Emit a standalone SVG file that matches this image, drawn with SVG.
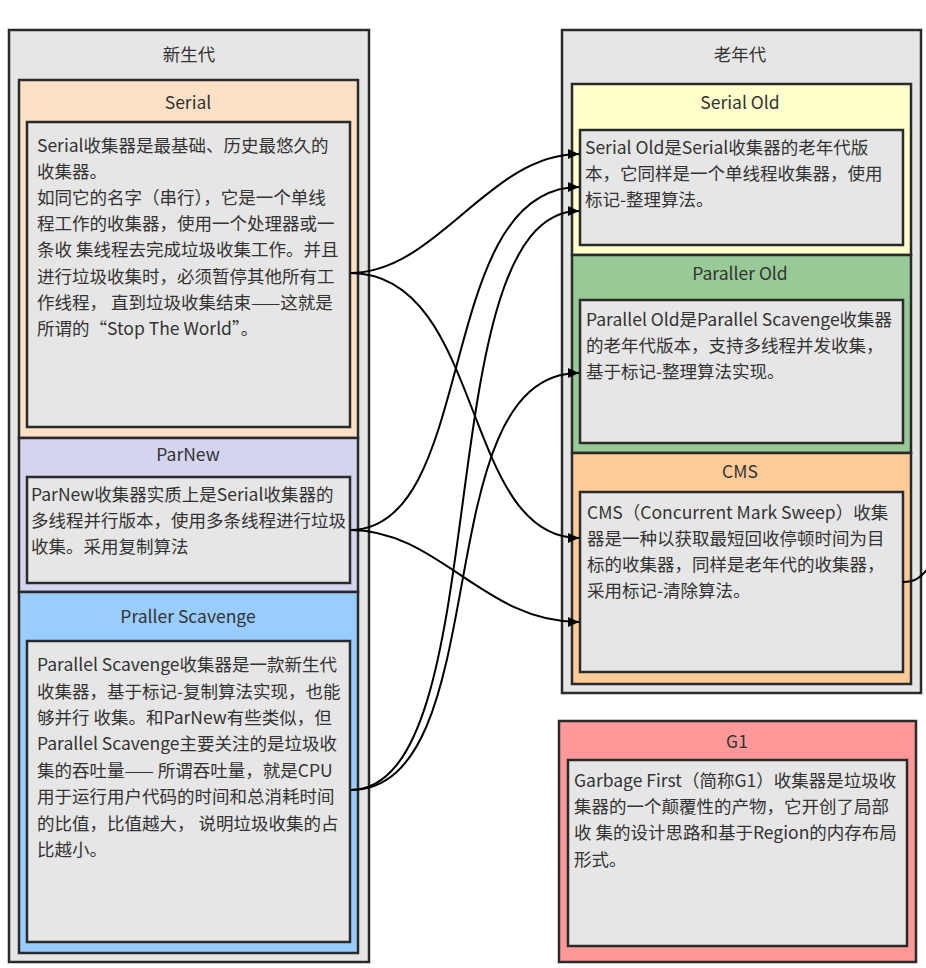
<svg xmlns="http://www.w3.org/2000/svg" width="926" height="968" viewBox="0 0 926 968">
<defs>
<style>
.box{stroke:#2a2a2a;stroke-width:2.5}
.cont{fill:#e6e6e6}
.inner{fill:#e6e6e6}
.t{font-family:"Noto Sans CJK SC","Noto Sans",sans-serif;font-size:17.5px;fill:#333}
.title{text-anchor:middle}
.edge{fill:none;stroke:#000;stroke-width:2}
</style>
<marker id="arr" markerUnits="userSpaceOnUse" markerWidth="12" markerHeight="10" refX="11" refY="5" orient="auto">
<path d="M0,0 L11,5 L0,10 z" fill="#000"/>
</marker>
</defs>
<rect width="926" height="968" fill="#fff"/>

<g id="young-gen">
<rect class="box cont" x="9" y="30" width="360" height="932"/>
<text class="t title" x="189" y="61">新生代</text>
</g>

<g id="serial">
<rect class="box" x="19" y="80" width="339" height="358" fill="#fde1c6"/>
<text class="t title" x="188" y="109">Serial</text>
<rect class="box inner" x="27" y="122" width="323" height="305"/>
<text class="t" x="37" y="152">
<tspan x="37" y="152">Serial收集器是最基础、历史最悠久的</tspan>
<tspan x="37" y="178">收集器。</tspan>
<tspan x="37" y="204">如同它的名字（串行），它是一个单线</tspan>
<tspan x="37" y="230">程工作的收集器，使用一个处理器或一</tspan>
<tspan x="37" y="256">条收 集线程去完成垃圾收集工作。并且</tspan>
<tspan x="37" y="283">进行垃圾收集时，必须暂停其他所有工</tspan>
<tspan x="37" y="309">作线程， 直到垃圾收集结束——这就是</tspan>
<tspan x="37" y="335">所谓的“Stop The World”。</tspan>
</text>
</g>

<g id="parnew">
<rect class="box" x="19" y="438" width="339" height="154" fill="#d4d4ef"/>
<text class="t title" x="188" y="461">ParNew</text>
<rect class="box inner" x="27" y="477" width="323" height="106"/>
<text class="t">
<tspan x="31" y="501">ParNew收集器实质上是Serial收集器的</tspan>
<tspan x="31" y="527">多线程并行版本，使用多条线程进行垃圾</tspan>
<tspan x="31" y="553">收集。采用复制算法</tspan>
</text>
</g>

<g id="parallel-scavenge">
<rect class="box" x="19" y="592" width="339" height="361" fill="#99ccff"/>
<text class="t title" x="188" y="623">Praller Scavenge</text>
<rect class="box inner" x="27" y="641" width="323" height="301"/>
<text class="t">
<tspan x="37" y="671">Parallel Scavenge收集器是一款新生代</tspan>
<tspan x="37" y="698">收集器，基于标记-复制算法实现，也能</tspan>
<tspan x="37" y="724">够并行 收集。和ParNew有些类似，但</tspan>
<tspan x="37" y="750">Parallel Scavenge主要关注的是垃圾收</tspan>
<tspan x="37" y="777">集的吞吐量—— 所谓吞吐量，就是CPU</tspan>
<tspan x="37" y="803">用于运行用户代码的时间和总消耗时间</tspan>
<tspan x="37" y="830">的比值，比值越大， 说明垃圾收集的占</tspan>
<tspan x="37" y="856">比越小。</tspan>
</text>
</g>

<g id="old-gen">
<rect class="box cont" x="562" y="30" width="359" height="663"/>
<text class="t title" x="740" y="61">老年代</text>
</g>

<g id="serial-old">
<rect class="box" x="572" y="84" width="339" height="171" fill="#ffffcc"/>
<text class="t title" x="740" y="109">Serial Old</text>
<rect class="box inner" x="580" y="130" width="323" height="115"/>
<text class="t">
<tspan x="585" y="154">Serial Old是Serial收集器的老年代版</tspan>
<tspan x="585" y="180">本，它同样是一个单线程收集器，使用</tspan>
<tspan x="585" y="206">标记-整理算法。</tspan>
</text>
</g>

<g id="parallel-old">
<rect class="box" x="572" y="255" width="339" height="198" fill="#97ca96"/>
<text class="t title" x="740" y="280">Paraller Old</text>
<rect class="box inner" x="580" y="300" width="323" height="143"/>
<text class="t">
<tspan x="586" y="326">Parallel Old是Parallel Scavenge收集器</tspan>
<tspan x="586" y="352">的老年代版本，支持多线程并发收集，</tspan>
<tspan x="586" y="378">基于标记-整理算法实现。</tspan>
</text>
</g>

<g id="cms">
<rect class="box" x="572" y="453" width="339" height="231" fill="#ffcc99"/>
<text class="t title" x="740" y="478">CMS</text>
<rect class="box inner" x="580" y="492" width="323" height="180"/>
<text class="t">
<tspan x="587" y="519">CMS（Concurrent Mark Sweep）收集</tspan>
<tspan x="587" y="545">器是一种以获取最短回收停顿时间为目</tspan>
<tspan x="587" y="571">标的收集器，同样是老年代的收集器，</tspan>
<tspan x="587" y="597">采用标记-清除算法。</tspan>
</text>
</g>

<g id="g1">
<rect class="box" x="559" y="721" width="357" height="241" fill="#ff9999"/>
<text class="t title" x="737" y="748">G1</text>
<rect class="box inner" x="568" y="760" width="339" height="186"/>
<text class="t">
<tspan x="574" y="787">Garbage First（简称G1）收集器是垃圾收</tspan>
<tspan x="574" y="813">集器的一个颠覆性的产物，它开创了局部</tspan>
<tspan x="574" y="839">收 集的设计思路和基于Region的内存布局</tspan>
<tspan x="574" y="866">形式。</tspan>
</text>
</g>

<g id="connectors">
<path class="edge" marker-end="url(#arr)" d="M350,273 C437,273 489,154 579,154"/>
<path class="edge" marker-end="url(#arr)" d="M350,273 C485,273 461,538 579,538"/>
<path class="edge" marker-end="url(#arr)" d="M350,530 C479,530 434,187 579,187"/>
<path class="edge" marker-end="url(#arr)" d="M350,530 C439,530 483,622 579,622"/>
<path class="edge" marker-end="url(#arr)" d="M350,790 C500,790 425,211 579,211"/>
<path class="edge" marker-end="url(#arr)" d="M350,790 C500,790 423,373 579,373"/>
<path class="edge" d="M903,582 C914,582 920,579 930,566"/>
</g>
</svg>
